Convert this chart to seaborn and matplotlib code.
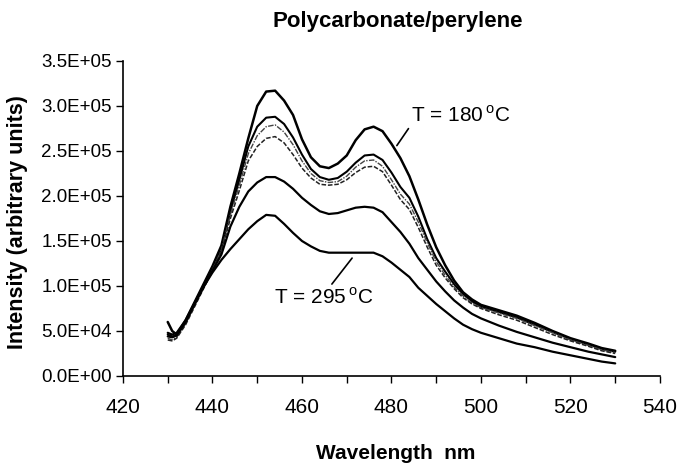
import numpy as np
import pandas as pd
import matplotlib
matplotlib.use("Agg")
import matplotlib.pyplot as plt
from matplotlib.ticker import FuncFormatter, MultipleLocator
import seaborn as sns

# Data
wavelength = [430, 431, 432, 434, 436, 438, 440, 442, 444, 446, 448, 450, 452, 454,
              456, 458, 460, 462, 464, 466, 468, 470, 472, 474, 476, 478, 480, 482,
              484, 486, 488, 490, 492, 494, 496, 498, 500, 504, 508, 512, 516, 520,
              524, 527, 530]

# intensities in units of 1e4
t180 = [6.0, 5.0, 4.6, 6.2, 8.2, 10.2, 12.2, 14.5, 18.8, 22.5, 26.4, 30.0, 31.6, 31.7,
        30.6, 29.0, 26.3, 24.3, 23.3, 23.1, 23.6, 24.5, 26.2, 27.4, 27.7, 27.2, 25.8, 24.2,
        22.2, 19.6, 16.8, 14.3, 12.3, 10.6, 9.3, 8.5, 7.9, 7.3, 6.7, 5.9, 5.0, 4.2,
        3.6, 3.1, 2.8]
t_b = [4.6, 4.4, 4.5, 6.0, 8.0, 10.0, 12.0, 14.2, 18.3, 21.8, 25.5, 27.7, 28.7, 28.8,
       28.0, 26.5, 24.6, 23.0, 22.1, 21.8, 22.0, 22.7, 23.7, 24.5, 24.6, 24.0, 22.6, 21.0,
       19.8, 17.7, 15.2, 13.1, 11.6, 10.2, 9.1, 8.3, 7.7, 7.1, 6.5, 5.7, 4.9, 4.1,
       3.5, 3.0, 2.7]
t_c = [4.2, 4.0, 4.3, 5.8, 7.8, 9.8, 11.8, 14.0, 17.9, 21.2, 24.7, 26.7, 27.7, 27.9,
       27.1, 25.7, 23.9, 22.5, 21.7, 21.5, 21.6, 22.2, 23.2, 23.9, 24.0, 23.3, 21.8, 20.2,
       19.1, 17.1, 14.8, 12.7, 11.2, 9.9, 8.9, 8.1, 7.6, 7.0, 6.4, 5.6, 4.8, 4.0,
       3.4, 2.9, 2.6]
t_d = [4.0, 3.9, 4.2, 5.7, 7.7, 9.7, 11.7, 13.8, 17.5, 20.6, 23.9, 25.5, 26.4, 26.6,
       25.9, 24.6, 23.1, 22.0, 21.3, 21.2, 21.3, 21.8, 22.6, 23.2, 23.3, 22.7, 21.2, 19.6,
       18.5, 16.5, 14.3, 12.3, 10.9, 9.7, 8.7, 8.0, 7.5, 6.8, 6.2, 5.4, 4.6, 3.9,
       3.3, 2.8, 2.5]
t_e = [4.4, 4.3, 4.5, 6.0, 8.0, 9.9, 11.7, 13.5, 16.6, 18.8, 20.5, 21.5, 22.1, 22.1,
       21.6, 20.8, 19.8, 19.0, 18.3, 18.0, 18.1, 18.4, 18.7, 18.8, 18.7, 18.2, 17.1, 16.0,
       14.7, 13.1, 11.8, 10.5, 9.4, 8.4, 7.6, 6.9, 6.4, 5.6, 4.9, 4.3, 3.7, 3.2,
       2.7, 2.4, 2.1]
t295 = [4.8, 4.6, 4.8, 6.2, 8.1, 9.9, 11.5, 12.9, 14.1, 15.2, 16.3, 17.2, 17.9, 17.8,
        16.9, 15.9, 15.0, 14.4, 13.9, 13.7, 13.7, 13.7, 13.7, 13.7, 13.7, 13.3, 12.6, 11.8,
        11.0, 9.8, 8.9, 8.0, 7.2, 6.4, 5.7, 5.2, 4.8, 4.2, 3.6, 3.2, 2.7, 2.3,
        1.9, 1.6, 1.4]

series = {"T180": t180, "Tb": t_b, "Tc": t_c, "Td": t_d, "Te": t_e, "T295": t295}
df = pd.DataFrame({"Wavelength": wavelength, **series})
df = df.melt(id_vars="Wavelength", var_name="run", value_name="Intensity")
df["Intensity"] = df["Intensity"] * 1e4

sns.set_style("ticks")
plt.rcParams["font.family"] = ["Liberation Sans", "DejaVu Sans"]
plt.rcParams["mathtext.fontset"] = "custom"
plt.rcParams["mathtext.rm"] = "Liberation Sans"
plt.rcParams["text.color"] = "black"
plt.rcParams["xtick.color"] = "black"
plt.rcParams["ytick.color"] = "black"

fig = plt.figure(figsize=(6.81, 4.69), dpi=100)
ax = fig.add_axes([0.1806, 0.1983, 0.7885, 0.6717])

styles = {
    "T180": dict(color="black", lw=1.8, ls="-"),
    "Tb": dict(color="black", lw=1.5, ls="-"),
    "Tc": dict(color="#444444", lw=1.0, ls=(0, (4, 1, 1, 1))),
    "Td": dict(color="#222222", lw=1.1, ls=(0, (3, 1.2))),
    "Te": dict(color="black", lw=1.6, ls="-"),
    "T295": dict(color="black", lw=1.6, ls="-"),
}
for run, st in styles.items():
    sub = df[df["run"] == run]
    sns.lineplot(data=sub, x="Wavelength", y="Intensity", ax=ax,
                 color=st["color"], linewidth=st["lw"], linestyle=st["ls"],
                 solid_joinstyle="round")

ax.set_xlim(420, 540)
ax.set_ylim(0, 3.5e5)
ax.xaxis.set_major_locator(MultipleLocator(20))
ax.xaxis.set_minor_locator(MultipleLocator(10))
ax.yaxis.set_major_locator(MultipleLocator(5e4))
ax.yaxis.set_major_formatter(FuncFormatter(lambda v, p: f"{v:.1E}"))
ax.tick_params(axis="both", length=5, width=1, labelcolor="black")
ax.tick_params(axis="y", labelsize=13.5, pad=3)
ax.tick_params(axis="x", labelsize=15, pad=11)
ax.tick_params(axis="x", which="minor", length=5, width=1)
for s in ["top", "right"]:
    ax.spines[s].set_visible(False)
for s in ["left", "bottom"]:
    ax.spines[s].set_linewidth(1.2)
    ax.spines[s].set_color("black")

ax.set_xlabel("")
ax.set_ylabel("")
fig.text(396 / 681, 1 - 453 / 469, "Wavelength  nm", fontsize=15, fontweight="bold",
         ha="center", va="center")
fig.text(18 / 681, 1 - 222 / 469, "Intensity (arbitrary units)", fontsize=15.5,
         fontweight="bold", rotation=90, ha="center", va="center")
fig.text(398 / 681, 1 - 21 / 469, "Polycarbonate/perylene", fontsize=16,
         fontweight="bold", ha="center", va="center")

ax.annotate(r"T = 180$\,^{\mathrm{o}}$C", xy=(481.2, 2.56e5), xytext=(484.3, 2.9e5),
            fontsize=15, va="center", ha="left",
            arrowprops=dict(arrowstyle="-", color="black", lw=1.2,
                            shrinkA=0, shrinkB=0, relpos=(0.0, 0.0)))
ax.annotate(r"T = 295$\,^{\mathrm{o}}$C", xy=(471.2, 1.31e5), xytext=(465.0, 8.7e4),
            fontsize=15, va="center", ha="center",
            arrowprops=dict(arrowstyle="-", color="black", lw=1.2,
                            shrinkA=0, shrinkB=0, relpos=(0.55, 1.0)))

fig.savefig("out.png", dpi=100)
